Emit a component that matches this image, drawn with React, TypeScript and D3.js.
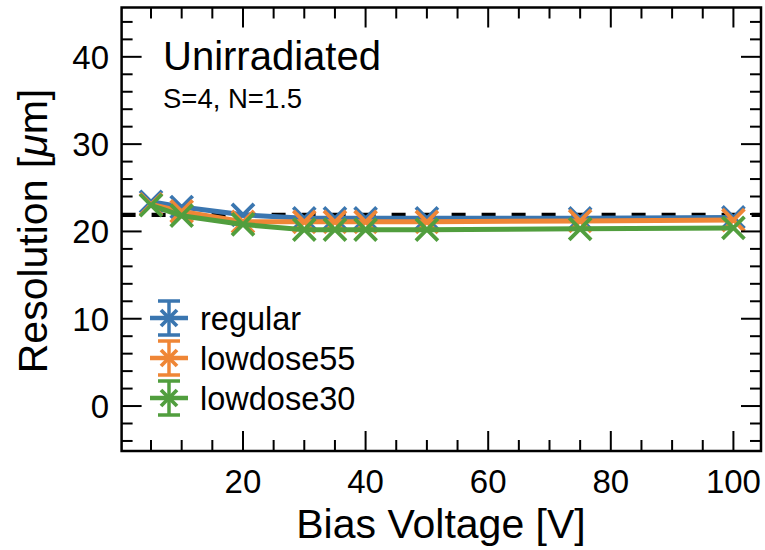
import React from "react";
import * as d3 from "d3";

const biasVoltage = [5, 10, 20, 30, 35, 40, 50, 75, 100];
const regular = [23.4, 22.8, 21.9, 21.5, 21.5, 21.5, 21.5, 21.5, 21.6];
const lowdose55 = [23.1, 22.3, 21.1, 21.1, 21.1, 21.1, 21.1, 21.2, 21.3];
const lowdose30 = [23.0, 21.8, 20.8, 20.2, 20.2, 20.2, 20.2, 20.3, 20.4];
const seriesNames = ["regular", "lowdose55", "lowdose30"];
const seriesColors = ["#3a76b0", "#ef8636", "#519e3e"];
const referenceLine = 21.9;
const xMajorTicks = [20, 40, 60, 80, 100];
const yMajorTicks = [0, 10, 20, 30, 40];
const title = "Unirradiated";
const subtitle = "S=4, N=1.5";

const W = 765;
const H = 550;
const FONT = "'Liberation Sans', Arial, Helvetica, sans-serif";

export default function App() {
  const x = d3.scaleLinear().domain([0.2, 104.5]).range([121.6, 761]);
  const y = d3.scaleLinear().domain([-5.15, 45.65]).range([451, 7.5]);
  const [x0, x1] = x.range();
  const [yb, yt] = y.range();

  const xMinor = d3.range(5, 105, 5).filter((v) => !xMajorTicks.includes(v));
  const yMinor = d3.range(-4, 46, 2).filter((v) => !yMajorTicks.includes(v));

  const allSeries = [regular, lowdose55, lowdose30];
  const line = d3
    .line<[number, number]>()
    .x((d) => x(d[0]))
    .y((d) => y(d[1]));

  const M = 11;
  const majorLen = 20;
  const minorLen = 11;

  const xMarker = (cx: number, cy: number, s: number, color: string, key: string) => (
    <path
      key={key}
      d={`M${cx - s},${cy - s}L${cx + s},${cy + s}M${cx - s},${cy + s}L${cx + s},${cy - s}`}
      stroke={color}
      strokeWidth={3.8}
      fill="none"
    />
  );

  return (
    <svg
      width={W}
      height={H}
      style={{ position: "absolute", left: 0, top: 0, background: "#fff" }}
      fontFamily={FONT}
    >
      <rect x={0} y={0} width={W} height={H} fill="#fff" />
      <line
        x1={x0}
        x2={x1}
        y1={y(referenceLine)}
        y2={y(referenceLine)}
        stroke="#000"
        strokeWidth={4.3}
        strokeDasharray="14 16"
      />
      {allSeries.map((vals, i) => {
        const pts = biasVoltage.map((v, j) => [v, vals[j]] as [number, number]);
        return (
          <g key={seriesNames[i]}>
            <path d={line(pts) || ""} stroke={seriesColors[i]} strokeWidth={5} fill="none" />
            {pts.map((p, j) => xMarker(x(p[0]), y(p[1]), M, seriesColors[i], `${i}-${j}`))}
          </g>
        );
      })}

      <g stroke="#000" strokeWidth={2}>
        {xMajorTicks.map((v) => (
          <g key={`xm${v}`}>
            <line x1={x(v)} x2={x(v)} y1={yb} y2={yb - majorLen} />
            <line x1={x(v)} x2={x(v)} y1={yt} y2={yt + majorLen} />
          </g>
        ))}
        {xMinor.map((v) => (
          <g key={`xn${v}`}>
            <line x1={x(v)} x2={x(v)} y1={yb} y2={yb - minorLen} />
            <line x1={x(v)} x2={x(v)} y1={yt} y2={yt + minorLen} />
          </g>
        ))}
        {yMajorTicks.map((v) => (
          <g key={`ym${v}`}>
            <line x1={x0} x2={x0 + majorLen} y1={y(v)} y2={y(v)} />
            <line x1={x1} x2={x1 - majorLen} y1={y(v)} y2={y(v)} />
          </g>
        ))}
        {yMinor.map((v) => (
          <g key={`yn${v}`}>
            <line x1={x0} x2={x0 + minorLen} y1={y(v)} y2={y(v)} />
            <line x1={x1} x2={x1 - minorLen} y1={y(v)} y2={y(v)} />
          </g>
        ))}
      </g>
      <rect x={x0} y={yt} width={x1 - x0} height={yb - yt} fill="none" stroke="#000" strokeWidth={2.5} />

      {xMajorTicks.map((v) => (
        <text key={`xl${v}`} x={x(v)} y={493} textAnchor="middle" fontSize={33}>
          {v}
        </text>
      ))}
      {yMajorTicks.map((v) => (
        <text key={`yl${v}`} x={109} y={y(v) + 12} textAnchor="end" fontSize={33}>
          {v}
        </text>
      ))}

      <text x={441} y={538} textAnchor="middle" fontSize={41}>
        Bias Voltage [V]
      </text>
      <text transform={`translate(47, 231) rotate(-90)`} textAnchor="middle" fontSize={41}>
        Resolution [<tspan fontStyle="italic">μ</tspan>m]
      </text>

      <text x={163} y={70} fontSize={40}>
        {title}
      </text>
      <text x={163} y={108} fontSize={27.5}>
        {subtitle}
      </text>

      {seriesNames.map((name, i) => {
        const cy = 318 + i * 40;
        const cx = 169;
        const c = seriesColors[i];
        return (
          <g key={`lg${name}`}>
            <line x1={150} x2={188} y1={cy} y2={cy} stroke={c} strokeWidth={4.5} />
            <line x1={cx} x2={cx} y1={cy - 17} y2={cy + 17} stroke={c} strokeWidth={3.5} />
            <line x1={cx - 11} x2={cx + 11} y1={cy - 17} y2={cy - 17} stroke={c} strokeWidth={3.5} />
            <line x1={cx - 11} x2={cx + 11} y1={cy + 17} y2={cy + 17} stroke={c} strokeWidth={3.5} />
            {xMarker(cx, cy, 8, c, `lm${i}`)}
            <text x={200} y={cy + 12} fontSize={32.5}>
              {name}
            </text>
          </g>
        );
      })}
    </svg>
  );
}
